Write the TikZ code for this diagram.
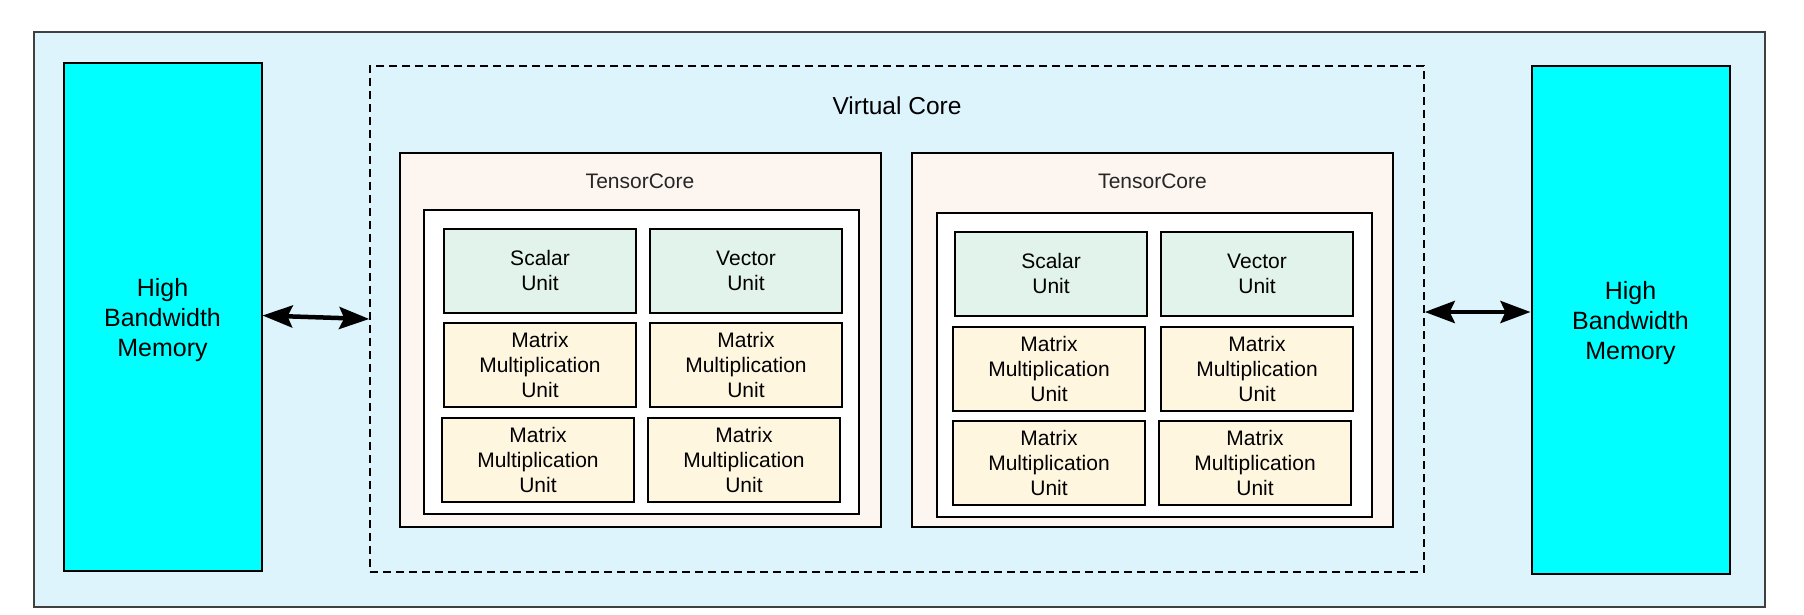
\documentclass[tikz,border=0pt]{standalone}
\usepackage{fontspec}
\setmainfont{Liberation Sans}
\usetikzlibrary{arrows.meta}

\definecolor{chipbg}{HTML}{DDF4FD}
\definecolor{hbmcyan}{HTML}{00FFFF}
\definecolor{corebg}{HTML}{FDF5F0}
\definecolor{svbg}{HTML}{E1F3EA}
\definecolor{mmubg}{HTML}{FFF6E0}

\begin{document}
\begin{tikzpicture}[x=1pt, y=-1pt,
    blk/.style={draw=black, line width=2pt, inner sep=0pt, align=center},
    hbm/.style={blk, fill=hbmcyan, minimum width=198pt, minimum height=508pt,
        font=\fontsize{25}{30}\selectfont},
    tcore/.style={blk, fill=corebg, minimum width=481pt, minimum height=374pt},
    tinner/.style={blk, fill=white, minimum width=435pt, minimum height=304pt},
    unitbox/.style={blk, minimum width=192pt, minimum height=84pt,
        font=\fontsize{21}{25}\selectfont},
    svunit/.style={unitbox, fill=svbg},
    mmunit/.style={unitbox, fill=mmubg},
    lbl/.style={font=\fontsize{21}{25}\selectfont, text=black!85},
    biarrow/.style={line width=4.5pt, {Stealth[length=30pt,width=22pt,inset=5pt]}-{Stealth[length=30pt,width=22pt,inset=5pt]}}]
    \useasboundingbox (0,0) rectangle (1804,614);
    \draw[fill=chipbg, draw=black!75, line width=1.5pt] (34,32) rectangle (1765,607);

    % memories on both sides
    \node[hbm] (hbmL) at (162.5,316.5) {\rule{0pt}{25pt}High\\Bandwidth\\Memory};
    \node[hbm] (hbmR) at (1630.5,320) {\rule{0pt}{25pt}High\\Bandwidth\\Memory};

    % virtual core
    \node[draw=black, line width=1.5pt, dash pattern=on 8pt off 5pt, minimum width=1054pt, minimum height=506pt] (vcore) at (897,319) {};
    \node[font=\fontsize{24.5}{30}\selectfont] (vclbl) at (897,106) {Virtual Core};

    % first tensor core
    \node[tcore] (tc1) at (640,340) {};
    \node[lbl] (tc1lbl) at (640,181) {TensorCore};
    \node[tinner] (in1) at (641,361.5) {};
    \node[svunit] (sc1) at (540,270.5) {Scalar\\Unit};
    \node[svunit] (vu1) at (746,270.5) {Vector\\Unit};
    \node[mmunit] (mma1) at (540,365) {Matrix\\Multiplication\\Unit};
    \node[mmunit] (mmb1) at (746,365) {Matrix\\Multiplication\\Unit};
    \node[mmunit] (mmc1) at (538,460) {Matrix\\Multiplication\\Unit};
    \node[mmunit] (mmd1) at (744,460) {Matrix\\Multiplication\\Unit};

    % second tensor core
    \node[tcore] (tc2) at (1152.5,340) {};
    \node[lbl] (tc2lbl) at (1152.5,181) {TensorCore};
    \node[tinner] (in2) at (1154,364.5) {};
    \node[svunit] (sc2) at (1051,273.5) {Scalar\\Unit};
    \node[svunit] (vu2) at (1257,273.5) {Vector\\Unit};
    \node[mmunit] (mma2) at (1049,369) {Matrix\\Multiplication\\Unit};
    \node[mmunit] (mmb2) at (1257,369) {Matrix\\Multiplication\\Unit};
    \node[mmunit] (mmc2) at (1049,462.5) {Matrix\\Multiplication\\Unit};
    \node[mmunit] (mmd2) at (1255,462.5) {Matrix\\Multiplication\\Unit};

    % links to memory
    \draw[biarrow] ([yshift=1pt]hbmL.east) -- (vcore.west);
    \draw[biarrow] ([yshift=7pt]vcore.east) -- ([yshift=8pt]hbmR.west);
\end{tikzpicture}
\end{document}
